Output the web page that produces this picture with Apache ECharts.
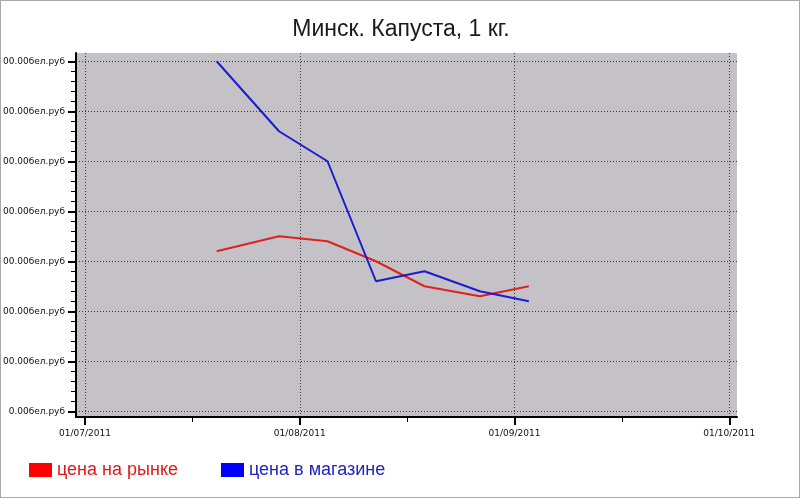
<!DOCTYPE html>
<html>
<head>
<meta charset="utf-8">
<script src="https://cdn.jsdelivr.net/npm/echarts@6/dist/echarts.min.js"></script>
<style>
html, body { margin: 0; padding: 0; background: #fff; }
#frame { width: 796px; height: 496px; border: 1px solid #a9a9a9; padding-left: 2px; }
#chart { width: 796px; height: 496px; }
</style>
</head>
<body>
<div id="frame"><div id="chart"></div></div>
<script>
// observation dates and prices (бел.руб per kg)
const dates = ['2011-07-20', '2011-07-29', '2011-08-05', '2011-08-12', '2011-08-19', '2011-08-27', '2011-09-03'];
const marketPrices = [3200, 3500, 3400, 3000, 2500, 2300, 2500];
const storePrices = [7000, 5600, 5000, 2600, 2800, 2400, 2200];
const seriesNames = ['цена на рынке', 'цена в магазине'];

// axis ticks
const monthLabels = ['01/07/2011', '01/08/2011', '01/09/2011', '01/10/2011'];
const yTicks = [0, 1000, 2000, 3000, 4000, 5000, 6000, 7000];

// x is measured in months from 01/07/2011, every month gets the same width
const toMonths = s => {
    const [y, m, d] = s.split('-').map(Number);
    const days = new Date(y, m, 0).getDate();
    return (y - 2011) * 12 + (m - 7) + (d - 1) / days;
};
const monthTicks = monthLabels.map((_, i) => i);

const chart = echarts.init(document.getElementById('chart'));

const tickFont = { fontFamily: 'DejaVu Sans', fontSize: 9, color: '#111' };
const gridLine = {
    show: true,
    showMinLine: true,
    showMaxLine: true,
    lineStyle: { color: '#3a3a3a', type: [1, 2], width: 1 }
};

const option = {
    animation: false,
    title: {
        text: 'Минск. Капуста, 1 кг.',
        left: 'center',
        top: 12,
        textStyle: { fontFamily: 'Liberation Sans', fontSize: 23, fontWeight: 'normal', color: '#1a1a1a' }
    },
    legend: {
        left: 26,
        top: 460,
        padding: 0,
        icon: 'rect',
        itemWidth: 23,
        itemHeight: 14,
        itemGap: 43,
        textStyle: { fontFamily: 'Liberation Sans', fontSize: 18 },
        data: [
            { name: seriesNames[0], itemStyle: { color: '#ff0000' }, textStyle: { color: '#e01818' } },
            { name: seriesNames[1], itemStyle: { color: '#0000ff' }, textStyle: { color: '#2222c0' } }
        ]
    },
    grid: {
        left: 73,
        top: 52,
        right: 62,
        bottom: 80,
        outerBoundsMode: 'none',
        containLabel: false,
        show: true,
        backgroundColor: '#c4c2c6',
        borderWidth: 0
    },
    xAxis: {
        type: 'value',
        min: -0.042,
        max: 3.036,
        splitNumber: 3,
        axisLine: { onZero: false, lineStyle: { color: '#000', width: 2 } },
        axisTick: { customValues: monthTicks, length: 8, lineStyle: { color: '#000', width: 2 } },
        minorTick: { show: true, splitNumber: 2, length: 5, lineStyle: { color: '#000', width: 1 } },
        axisLabel: {
            customValues: monthTicks,
            margin: 12,
            ...tickFont,
            formatter: v => monthLabels[Math.round(v)] || ''
        },
        splitLine: gridLine
    },
    yAxis: {
        type: 'value',
        min: -115,
        max: 7165,
        splitNumber: 8,
        axisLine: { show: true, onZero: false, lineStyle: { color: '#000', width: 2 } },
        axisTick: { show: true, customValues: yTicks, length: 8, lineStyle: { color: '#000', width: 2 } },
        minorTick: { show: true, splitNumber: 5, length: 5, lineStyle: { color: '#000', width: 1 } },
        axisLabel: {
            customValues: yTicks,
            margin: 11,
            ...tickFont,
            formatter: v => v.toFixed(2) + 'бел.руб'
        },
        splitLine: gridLine
    },
    series: [
        {
            name: seriesNames[0],
            type: 'line',
            symbol: 'none',
            lineStyle: { color: '#dd2222', width: 2 },
            itemStyle: { color: '#dd2222' },
            data: dates.map((d, i) => [toMonths(d), marketPrices[i]])
        },
        {
            name: seriesNames[1],
            type: 'line',
            symbol: 'none',
            lineStyle: { color: '#1c1ccf', width: 2 },
            itemStyle: { color: '#1c1ccf' },
            data: dates.map((d, i) => [toMonths(d), storePrices[i]])
        }
    ]
};

chart.setOption(option);
</script>
</body>
</html>
